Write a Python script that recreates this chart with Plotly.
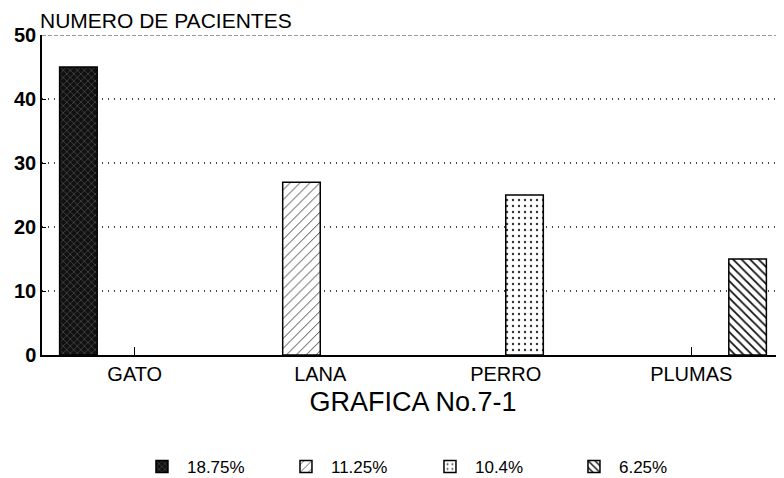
import plotly.graph_objects as go

categories = ["GATO", "LANA", "PERRO", "PLUMAS"]
series_names = ["18.75%", "11.25%", "10.4%", "6.25%"]
gato = [45, None, None, None]
lana = [None, 27, None, None]
perro = [None, None, 25, None]
plumas = [None, None, None, 15]
y_ticks = [0, 10, 20, 30, 40, 50]

font_family = "Liberation Sans, Arial, sans-serif"

styles = [
    dict(fillmode="replace", shape="x", bgcolor="#111111", fgcolor="#9a9a9a", size=5, solidity=0.12),
    dict(fillmode="replace", shape="/", bgcolor="white", fgcolor="#222222", size=7, solidity=0.12),
    dict(fillmode="replace", shape=".", bgcolor="white", fgcolor="#333333", size=6, solidity=0.12),
    dict(fillmode="replace", shape="\\", bgcolor="white", fgcolor="#111111", size=6, solidity=0.3),
]

fig = go.Figure()
for name, vals, pat in zip(series_names, [gato, lana, perro, plumas], styles):
    fig.add_trace(go.Bar(
        x=categories, y=vals, name=name,
        marker=dict(color="white", pattern=pat, line=dict(color="black", width=1.5)),
    ))

# page body has an 8px margin: figure is laid out at (8, 8)
fig.update_layout(
    width=776, height=470,
    margin=dict(l=34, r=0, t=27, b=123, autoexpand=False),
    paper_bgcolor="white", plot_bgcolor="white",
    barmode="group", bargap=0.19, bargroupgap=0,
    font=dict(family=font_family, color="black"),
    showlegend=True,
    legend=dict(orientation="h", x=0.128, xanchor="left", y=-0.35, yanchor="middle",
                font=dict(size=17, family=font_family), itemwidth=40,
                entrywidth=89, entrywidthmode="pixels",
                traceorder="normal", tracegroupgap=0),
    xaxis=dict(
        range=[-0.5, 3.5], showline=True, linecolor="black", linewidth=1.5,
        ticks="inside", ticklen=8, tickcolor="black", automargin=False,
        tickfont=dict(size=20), showgrid=False,
        title=dict(text="GRAFICA No.7-1", font=dict(size=27), standoff=8),
    ),
    yaxis=dict(
        range=[0, 50], tickvals=y_ticks, showline=True, linecolor="black", linewidth=1.5,
        ticks="inside", ticklen=4, tickcolor="black", automargin=False,
        tickfont=dict(size=20, family=font_family, weight="bold"), ticklabelstandoff=0,
        showgrid=True, gridcolor="#444444", griddash="1px,5px", gridwidth=1.5,
        zeroline=False,
    ),
    annotations=[dict(text="NUMERO DE PACIENTES", xref="paper", yref="paper",
                      x=-0.004, y=27 / 320 + 1.0, xanchor="left", yanchor="top",
                      borderpad=0, showarrow=False, font=dict(size=21))],
    shapes=[dict(type="line", xref="paper", yref="y", x0=0, x1=1, y0=50, y1=50,
                 line=dict(color="#333333", width=1.2, dash="4px,2px"))],
)

fig.write_html("out.html")
